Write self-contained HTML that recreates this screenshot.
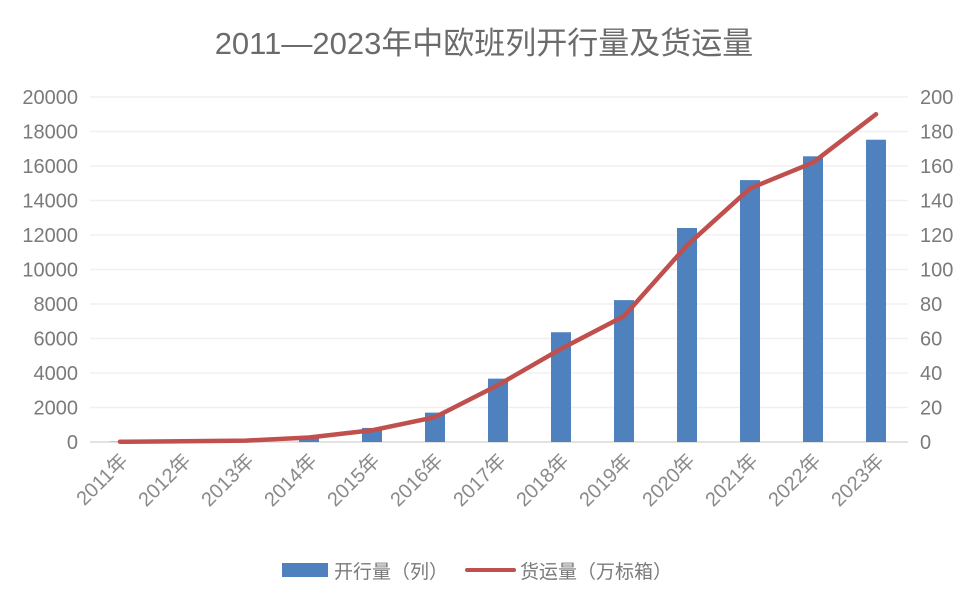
<!DOCTYPE html>
<html><head><meta charset="utf-8"><style>
body{margin:0;background:#fff;}
svg{display:block;font-family:"Liberation Sans","Noto Sans CJK SC",sans-serif;}
</style></head><body>
<svg id="c" width="967" height="599">
<text x="484" y="54" text-anchor="middle" font-size="31" fill="#6b6b6b">2011—2023年中欧班列开行量及货运量</text>
<g id="grid"></g><g id="bars"></g><g id="line"></g><g id="axes"></g>
<g>
<rect x="282" y="563" width="46" height="14" fill="#4e81bd"/>
<text x="334" y="578" font-size="19" fill="#7a7a7a">开行量（列）</text>
<line x1="467" y1="570" x2="514" y2="570" stroke="#c0504d" stroke-width="4" stroke-linecap="round"/>
<text x="520" y="578" font-size="19" fill="#7a7a7a">货运量（万标箱）</text>
</g>
</svg>
<script>
const categories=["2011年","2012年","2013年","2014年","2015年","2016年","2017年","2018年","2019年","2020年","2021年","2022年","2023年"];
const trains=[17,42,80,308,815,1702,3673,6363,8225,12406,15183,16562,17523];
const freight=[0.14,0.4,0.8,2.6,6.8,14.4,33,54,73,114,147,162,190];
const leftTicks=[0,2000,4000,6000,8000,10000,12000,14000,16000,18000,20000];
const rightTicks=[0,20,40,60,80,100,120,140,160,180,200];
const NS="http://www.w3.org/2000/svg";
const y0=442,yTop=97,x0=120,step=63;
const yL=v=>y0-(v/20000)*(y0-yTop);
const yR=v=>y0-(v/200)*(y0-yTop);
const xC=i=>x0+i*step;
function mk(t,a,p){const e=document.createElementNS(NS,t);for(const k in a)e.setAttribute(k,a[k]);p.appendChild(e);return e;}
const grid=document.getElementById('grid'),axes=document.getElementById('axes');
leftTicks.forEach((v,i)=>{
 const l=mk('line',{x1:90,x2:908,y1:yL(v),y2:yL(v),stroke:v===0?'#d9d9d9':'#f0f0f0','stroke-width':1.5},grid);
 
 
 const t=mk('text',{x:78,y:yL(v)+7,'text-anchor':'end','font-size':20,fill:'#7a7a7a'},axes);
 t.textContent=v;
 
 
});
rightTicks.forEach(v=>{
 const t=mk('text',{x:920,y:yR(v)+7,'font-size':20,fill:'#7a7a7a'},axes);
 t.textContent=v;
 
 
});
const bars=document.getElementById('bars');
trains.forEach((v,i)=>{
 const r=mk('rect',{x:xC(i)-10,y:yL(v),width:20,height:y0-yL(v),fill:'#4e81bd'},bars);
 
 
});
categories.forEach((c,i)=>{
 const x=xC(i)+9,y=462;
 const t=mk('text',{x:x,y:y,'text-anchor':'end','font-size':20,fill:'#8a8a8a',transform:`rotate(-45 ${x} ${y})`},axes);
 t.textContent=c;
 
 
});
const pts=freight.map((v,i)=>xC(i)+','+yR(v)).join(' ');
const pl=mk('polyline',{points:pts,fill:'none',stroke:'#c0504d','stroke-width':4.5,'stroke-linejoin':'round','stroke-linecap':'round'},document.getElementById('line'));


</script>
</body></html>
